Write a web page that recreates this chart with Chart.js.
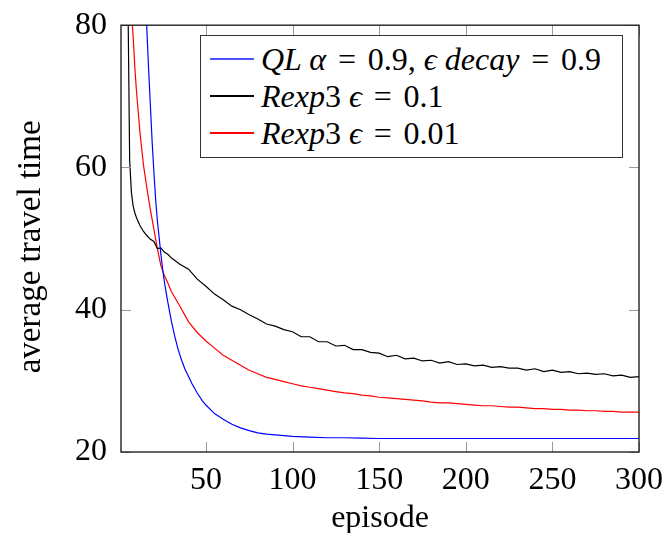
<!DOCTYPE html>
<html>
<head>
<meta charset="utf-8">
<script src="https://cdn.jsdelivr.net/npm/chart.js@4/dist/chart.umd.min.js"></script>
<style>
  html, body { margin: 0; padding: 0; background: #fff; }
  #wrap { position: relative; width: 665px; height: 533px; }
  #legendBox {
    position: absolute; left: 200px; top: 35px; width: 421px; height: 121px;
    border: 1.3px solid #333; background: #fff;
    font-family: "Liberation Serif", "Times New Roman", serif; font-size: 32px; color: #000;
  }
  .row { position: absolute; left: 9px; height: 36px; display: flex; align-items: center; white-space: nowrap; }
  .swatch { width: 44px; height: 1.4px; margin-right: 7px; }
  .eq { margin: 0 0.12em; }
</style>
</head>
<body>
<div id="wrap">
  <canvas id="chart" width="665" height="533"></canvas>
  <div id="legendBox">
    <div class="row" style="top:5px"><div class="swatch" style="background:#5050ff"></div><span><i>QL α</i> <span class="eq">=</span> 0.9, <i>ϵ decay</i> <span class="eq">=</span> 0.9</span></div>
    <div class="row" style="top:42px"><div class="swatch" style="background:#000"></div><span><i>Rexp</i>3 <i>ϵ</i> <span class="eq">=</span> 0.1</span></div>
    <div class="row" style="top:79px"><div class="swatch" style="background:#ff0000"></div><span><i>Rexp</i>3 <i>ϵ</i> <span class="eq">=</span> 0.01</span></div>
  </div>
</div>
<script>
// ─── Data ────────────────────────────────────────────────────────
const xTicks = [50, 100, 150, 200, 250, 300];
const yTicks = [20, 40, 60, 80];

const qlEpisodes = [1, 5, 10, 12, 14, 15, 16, 17, 18, 19, 20, 21, 22, 23, 24, 25, 26, 27, 28, 30,
  32, 34, 36, 38, 40, 42, 45, 48, 50, 55, 60, 65, 70, 75, 80, 85, 90, 95, 100, 110, 120, 130,
  140, 150, 175, 200, 225, 250, 275, 300];
const qlTime = [200, 160, 120, 105, 92, 85, 79, 73.5, 68.5, 63.5, 59.3, 55.5, 52.5, 50.2, 47.8, 45.8, 44.0, 42.5, 41.1, 38.5,
  36.3, 34.4, 32.9, 31.6, 30.6, 29.6, 28.3, 27.2, 26.6, 25.4, 24.6, 23.9, 23.4, 23.0, 22.7, 22.5, 22.4, 22.3, 22.2, 22.1, 22.0, 22.0,
  21.95, 21.9, 21.9, 21.9, 21.9, 21.9, 21.9, 21.9];

const rexpEpisodes = [1, 2, 3, 4, 5, 6, 7, 8, 9, 10, 12, 14, 16, 18, 20, 22, 24, 26, 28, 30,
  35, 40, 45, 50, 55, 60, 65, 70, 75, 80, 85, 90, 95, 100, 105, 110, 115, 120, 125, 130, 135, 140,
  145, 150, 155, 160, 165, 170, 175, 180, 185, 190, 195, 200, 205, 210, 215, 220, 225, 230, 235,
  240, 245, 250, 255, 260, 265, 270, 275, 280, 285, 290, 295, 300];
const rexp01Time = [160, 125, 100, 88, 84, 61, 56.5, 54.6, 53.6, 52.9, 51.8, 51.0, 50.4, 49.9, 49.6, 48.6, 48.7, 48.1, 47.8, 47.3,
  46.4, 45.7, 44.3, 43.3, 42.2, 41.4, 40.5, 40.0, 39.3, 38.7, 38.0, 37.7, 37.2, 36.9, 36.2, 36.2, 35.5, 35.5, 34.9, 35.0, 34.4, 34.4,
  34.0, 33.9, 33.4, 33.6, 33.1, 33.2, 32.8, 32.9, 32.5, 32.7, 32.3, 32.4, 32.1, 32.2, 31.9, 32.0, 31.8, 31.8, 31.5,
  31.7, 31.3, 31.5, 31.2, 31.3, 31.0, 31.1, 30.9, 31.0, 30.7, 30.8, 30.5, 30.6];
const rexp001Time = [150, 125, 108, 97, 90, 86, 82, 78.5, 74, 70.5, 64.8, 60.3, 57.0, 54.0, 51.3, 48.6, 46.2, 44.8, 43.8, 42.6,
  40.5, 38.3, 36.8, 35.6, 34.6, 33.6, 32.9, 32.2, 31.5, 31.0, 30.5, 30.2, 29.9, 29.6, 29.3, 29.1, 28.9, 28.7, 28.5, 28.3, 28.2, 28.0,
  27.9, 27.7, 27.6, 27.5, 27.4, 27.3, 27.2, 27.0, 26.9, 26.9, 26.8, 26.7, 26.6, 26.5, 26.5, 26.4, 26.3, 26.3, 26.2,
  26.1, 26.1, 26.0, 26.0, 25.9, 25.9, 25.8, 25.8, 25.7, 25.7, 25.6, 25.6, 25.6];

const FONT = "'Liberation Serif', 'Times New Roman', serif";
const pts = (xs, ys) => xs.map((x, i) => ({ x, y: ys[i] }));

// ─── Frame with inward ticks (pgfplots look) ─────────────────────
const framePlugin = {
  id: "frame",
  afterDatasetsDraw(chart) {
    const { ctx, chartArea: a, scales: { x, y } } = chart;
    ctx.save();
    ctx.strokeStyle = "#999";
    ctx.lineWidth = 1;
    ctx.beginPath();
    xTicks.forEach(v => {
      const px = Math.round(x.getPixelForValue(v)) + 0.5;
      ctx.moveTo(px, a.bottom); ctx.lineTo(px, a.bottom - 10);
      ctx.moveTo(px, a.top); ctx.lineTo(px, a.top + 10);
    });
    yTicks.forEach(v => {
      const py = Math.round(y.getPixelForValue(v)) + 0.5;
      ctx.moveTo(a.left, py); ctx.lineTo(a.left + 10, py);
      ctx.moveTo(a.right, py); ctx.lineTo(a.right - 10, py);
    });
    ctx.stroke();
    ctx.strokeStyle = "#222";
    ctx.lineWidth = 1.4;
    ctx.strokeRect(a.left, a.top, a.right - a.left, a.bottom - a.top);
    ctx.restore();
  }
};

new Chart(document.getElementById("chart").getContext("2d"), {
  type: "line",
  data: {
    datasets: [
      { data: pts(qlEpisodes, qlTime), borderColor: "#0000ff" },
      { data: pts(rexpEpisodes, rexp01Time), borderColor: "#000000" },
      { data: pts(rexpEpisodes, rexp001Time), borderColor: "#ff0000" }
    ].map(d => ({ ...d, borderWidth: 1.2, pointRadius: 0, tension: 0, fill: false }))
  },
  options: {
    responsive: false,
    animation: false,
    layout: { padding: { top: 22, right: 26, left: 0, bottom: 0 } },
    plugins: { legend: { display: false }, tooltip: { enabled: false } },
    scales: {
      x: {
        type: "linear", min: 1, max: 300,
        afterBuildTicks: s => { s.ticks = xTicks.map(v => ({ value: v })); },
        afterFit: s => { s.height = 81; },
        grid: { display: false }, border: { display: false },
        ticks: { color: "#000", font: { family: FONT, size: 32 }, padding: 1, maxRotation: 0 },
        title: { display: true, text: "episode", color: "#000", font: { family: FONT, size: 32 }, padding: { top: 0, bottom: -5 } }
      },
      y: {
        type: "linear", min: 20, max: 80,
        afterBuildTicks: s => { s.ticks = yTicks.map(v => ({ value: v })); },
        afterFit: s => { s.width = 121; },
        grid: { display: false }, border: { display: false },
        ticks: { color: "#000", font: { family: FONT, size: 32 }, padding: 6 },
        title: { display: true, text: "average travel time  ", color: "#000", font: { family: FONT, size: 33 }, padding: { top: 12, bottom: 0 } }
      }
    }
  },
  plugins: [framePlugin]
});
</script>
</body>
</html>
